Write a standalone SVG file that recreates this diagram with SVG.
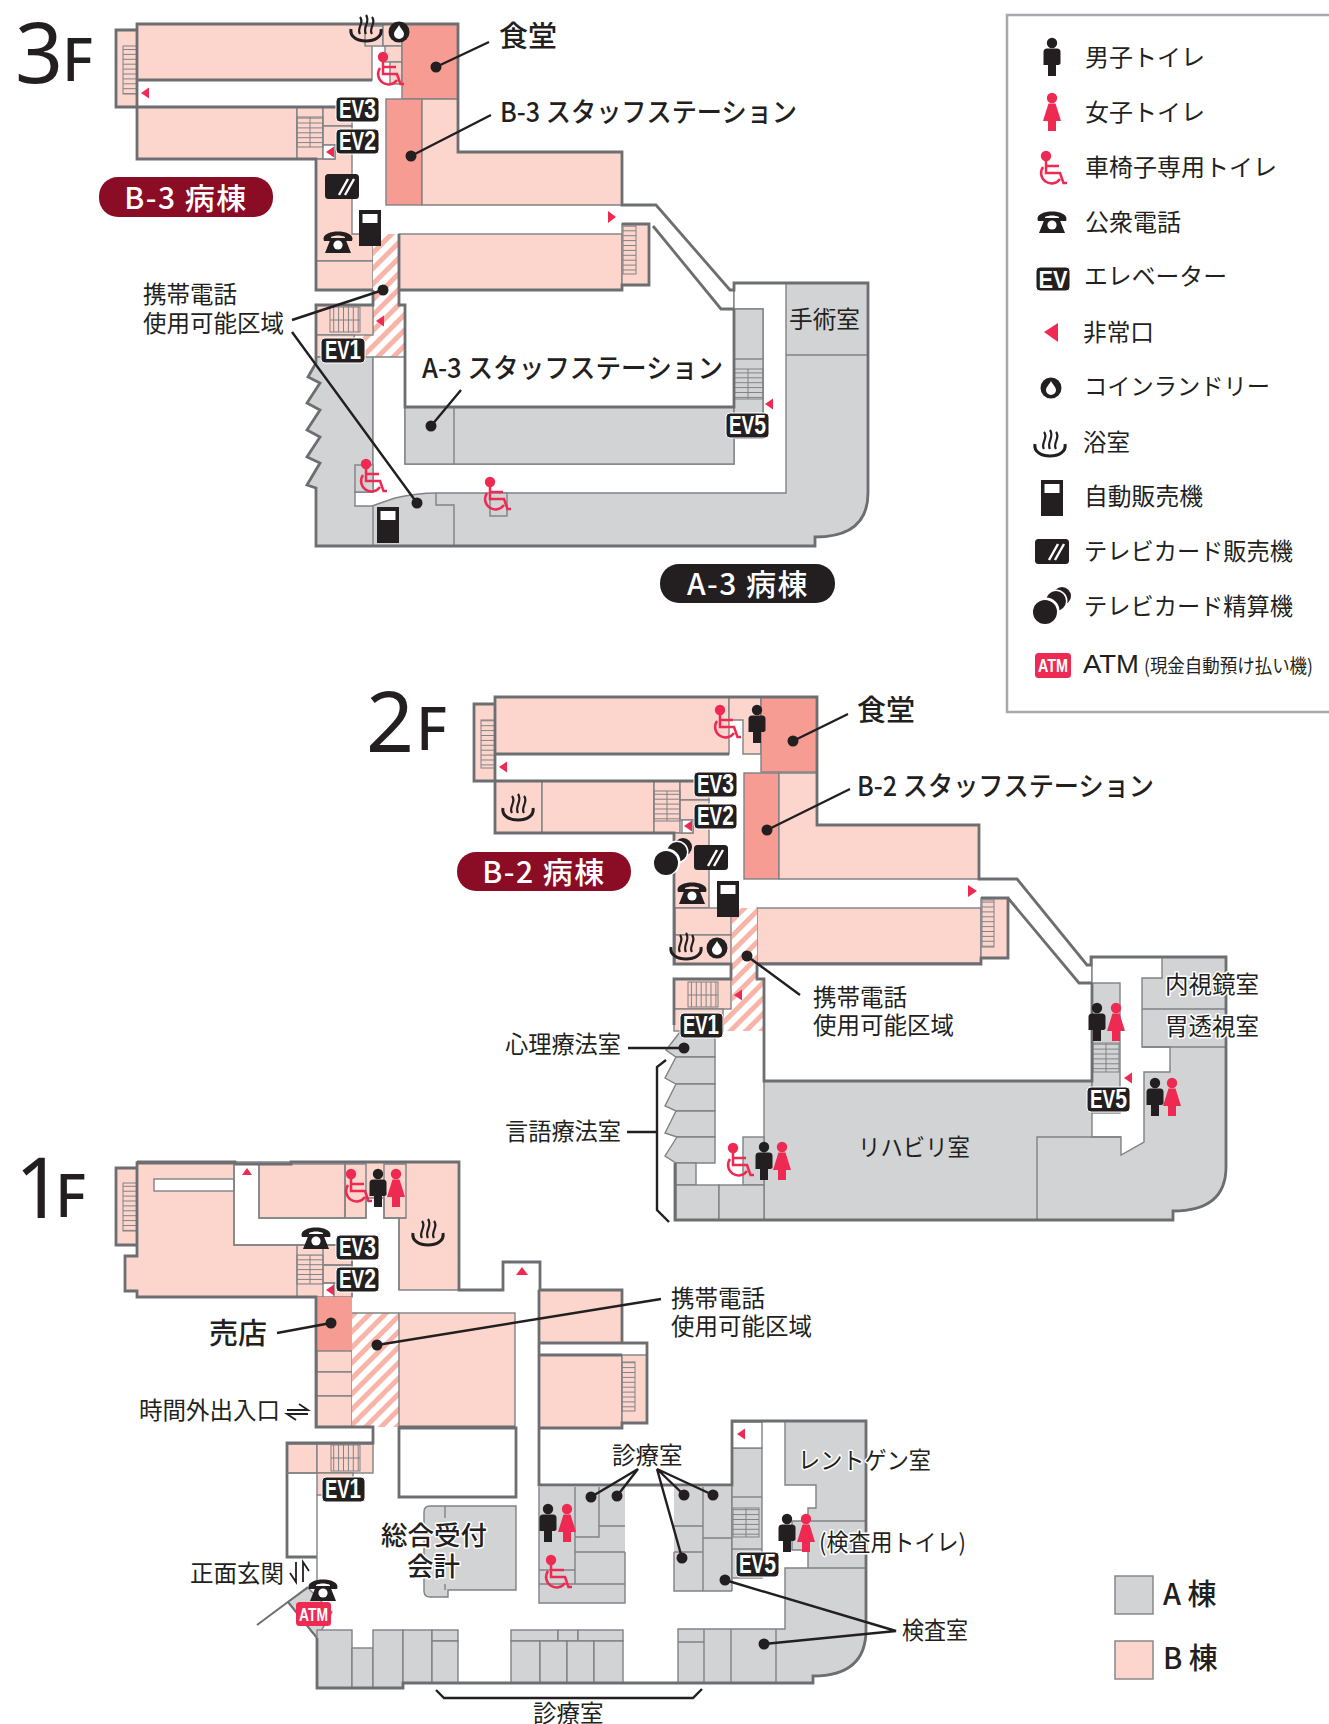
<svg xmlns="http://www.w3.org/2000/svg" width="1329" height="1724" viewBox="0 0 1329 1724">
<style>
text{font-family:"Noto Sans CJK JP","Noto Sans",sans-serif;fill:#231f20}
.t{font-size:23.5px}.m{font-size:27px;font-weight:500}.l{font-size:29px;font-weight:500}.pl{font-size:30px;font-weight:500;fill:#fff;text-anchor:middle}
.big{font-family:"Noto Sans",sans-serif;font-size:84px}.f{font-family:"Noto Sans",sans-serif;font-size:59px;font-weight:500}
.hl{paint-order:stroke;stroke:#fff;stroke-width:3px;stroke-linejoin:round}
.p{fill:#fcd5cc;stroke:#808285;stroke-width:1.4}.d{fill:#f79c92;stroke:#808285;stroke-width:1.4}
.g{fill:#d1d3d4;stroke:#808285;stroke-width:1.4}.wh{fill:#fff;stroke:#808285;stroke-width:1.4}
.n{fill:none;stroke:#808285;stroke-width:1.4}.o{fill:none;stroke:#6d6e71;stroke-width:2.8}
.s{stroke:#808285;stroke-width:1}
.tr{stroke:#808285;stroke-width:1}
.ld{fill:none;stroke:#231f20;stroke-width:2.4}.dot{fill:#231f20}
.ev rect{fill:#231f20;stroke:#fff;stroke-width:1}
.ev text{font-family:"Liberation Sans",sans-serif;font-weight:700;fill:#fff;font-size:25px}
.r{fill:#ef2a52}
</style>
<defs>
<pattern id="hatch" width="11" height="11" patternUnits="userSpaceOnUse" patternTransform="rotate(45)"><rect width="11" height="11" fill="#fff"/><rect width="5" height="11" fill="#f9b4a9"/></pattern>
<pattern id="th" width="10" height="4.9" patternUnits="userSpaceOnUse"><line x1="0" x2="10" y1="0.5" y2="0.5" stroke="#808285" stroke-width="1"/></pattern>
<pattern id="tv" width="4.9" height="10" patternUnits="userSpaceOnUse"><line y1="0" y2="10" x1="0.5" x2="0.5" stroke="#808285" stroke-width="1"/></pattern>
<g id="man" fill="#231f20"><circle cx="0" cy="-14" r="5.2"/><path d="M-8.500-5Q-8.500-8.500-5-8.500H5Q8.500-8.500 8.500-5V6Q8.500 8 5 8H-8.500Z"/><rect x="-4" y="6" width="8" height="13"/></g>
<g id="woman" class="r"><circle cx="0" cy="-14" r="5.200"/><path d="M-3.500-8.500H3.500L9 9H-9Z"/><rect x="-4" y="8" width="8" height="11"/></g>
<g id="wc"><circle class="r" cx="-7" cy="-13" r="5.200"/><path d="M-7-12V4H7L10.500 14H14M-7-3H6M-10-2A10 10 0 1 0 7 10" fill="none" stroke="#ef2a52" stroke-width="2.500"/></g>
<g id="phone" fill="#231f20"><path d="M-14.500-3C-15-13 15-13 14.500-3L14-1H7V-5C3-7-3-7-7-5V-1H-14Z"/><path d="M-7-4H7L13 11H-13Z"/><circle cx="0" cy="3" r="4.600" fill="#fff"/></g>
<g id="bath" fill="none" stroke="#231f20"><path stroke-width="3" d="M-15 0C-18 16 18 16 15 0"/><path stroke-width="1.800" d="M-15 0C-14 6 14 6 15 0" style="display:none"/><path stroke-width="2.200" d="M-6 5C-10-1-1-6-6-12M0 5C-4-2 5-7 0-14M6 5C2-1 11-6 6-12"/></g>
<g id="laundry"><circle r="10.500" fill="#231f20"/><path d="M0-7C2-3 5-1 5 2A5 5 0 0 1-5 2C-5-1-2-3 0-7Z" fill="#fff"/></g>
<g id="vend"><rect width="22" height="36" fill="#231f20"/><rect x="3.500" y="4" width="15" height="9" fill="#fff"/></g>
<g id="card"><rect width="34" height="25" rx="3.500" fill="#231f20"/><path d="M14 21 23 5M20 21 29 5" stroke="#fff" stroke-width="2.400" fill="none"/></g>
<g id="coins"><circle cx="11" cy="-10" r="9" fill="#231f20"/><circle cx="5" cy="-5" r="11.500" fill="#fff"/><circle cx="5" cy="-5" r="10" fill="#231f20"/><circle cx="-5" cy="5" r="13.500" fill="#fff"/><circle cx="-6" cy="6" r="12" fill="#231f20"/></g>
<path id="al" class="r" d="M0 0 8-5.500V5.500Z"/>
</defs>

<g id="floor-3f">
<rect class="p" x="116" y="30" width="21" height="77"/>
<rect class="p" x="137" y="24" width="235" height="56"/>
<rect class="p" x="365" y="26" width="18" height="20"/><rect class="p" x="383" y="24" width="19" height="22"/><rect class="p" x="385" y="46" width="17" height="16"/><rect class="p" x="390" y="62" width="12" height="22"/>
<rect class="d" x="402" y="24" width="56" height="75"/>
<rect class="p" x="137" y="107" width="160" height="52"/>
<rect class="p" x="297" y="107" width="26" height="52"/>
<rect class="p" x="323" y="107" width="29" height="19"/><rect class="p" x="323" y="126" width="29" height="19"/>
<polygon class="p" points="316,159 335,159 335,145 352,145 352,234 373,234 373,261 316,261"/>
<polygon class="wh" points="323,145 335,145 335,159 323,159"/>
<rect class="p" x="316" y="261" width="57" height="29"/>
<rect class="d" x="386" y="99" width="36" height="106"/>
<polygon class="p" points="422,99 458,99 458,152 622,152 622,205 422,205"/>
<rect class="p" x="399" y="234" width="223" height="56"/>
<rect class="p" x="622" y="224" width="27" height="61"/>
<rect x="123" y="46" width="14" height="48" fill="url(#th)" class="s"/>
<rect x="623" y="226" width="13" height="48" fill="url(#th)" class="s"/>
<rect x="297" y="117" width="26" height="30" fill="url(#th)" class="s"/><line class="tr" x1="310" x2="310" y1="117" y2="147"/>
<polygon points="373,234 398,234 398,305 405,305 405,357 354,357 354,335 373,335" fill="url(#hatch)"/>
<rect class="p" x="316" y="305" width="57" height="30"/>
<rect x="330" y="307" width="30" height="25" fill="url(#tv)" class="s"/><line class="tr" x1="330" x2="360" y1="320" y2="320"/>
<rect class="p" x="316" y="335" width="38" height="22"/>
<path class="g" d="M734,283H868V493Q868,537 815,537V546H316V488L307,485 320,463 307,457 320,437 307,430 320,410 307,403 320,383 308,377 316,363V357H373V465H734V283Z"/>
<path class="wh" d="M373,357H405V464H734V438H763V309H734V283H786V493H436Q418,493 395,498L372,506H355V492H373Z"/>
<rect class="g" x="405" y="407" width="329" height="57"/><line class="n" x1="454" x2="454" y1="407" y2="464"/>
<rect class="g" x="734" y="309" width="29" height="129"/><line class="n" x1="734" x2="763" y1="359" y2="359"/>
<rect x="734" y="369" width="29" height="30" fill="url(#th)" class="s"/><line class="tr" x1="748" x2="748" y1="369" y2="399"/>
<rect class="g" x="355" y="465" width="18" height="27"/>
<rect class="g" x="490" y="493" width="17" height="23"/>
<path class="n" d="M373,506V546M436,493V505H454V546M786,355H868"/>
<path class="o" d="M137,107H116V30H137V24H458V152H622V205H656L730,290H734V283H868V493Q868,537 815,537V546H316V488L307,485 320,463 307,457 320,437 307,430 320,410 307,403 320,383 308,377 316,363V305H373V290M137,24V159H316V290H373M137,80H372M137,107H352M399,290H622V285H649V224H622M653,226 721,309H734M399,290V234M399,290V305H405V407H734V309"/>
<use href="#al" transform="translate(141,93)"/><use href="#al" transform="translate(326,152)"/><use href="#al" transform="translate(376,321)"/><use href="#al" transform="translate(765,404)"/>
<polygon class="r" points="616,217 608,211 608,223"/>
<use href="#bath" x="366" y="29"/><use href="#laundry" x="399" y="32"/><use href="#wc" x="390" y="70"/>
<use href="#card" x="325" y="174"/><use href="#vend" x="359" y="210"/><use href="#phone" x="338" y="242"/>
<use href="#wc" x="373" y="477"/><use href="#wc" x="497" y="495"/><use href="#vend" x="377" y="507"/>
<g class="ev" transform="translate(336,97)"><rect width="43" height="25" rx="4"/><text x="3" y="21" textLength="37" lengthAdjust="spacingAndGlyphs">EV<tspan font-size="28">3</tspan></text></g>
<g class="ev" transform="translate(336,129)"><rect width="43" height="25" rx="4"/><text x="3" y="21" textLength="37" lengthAdjust="spacingAndGlyphs">EV<tspan font-size="28">2</tspan></text></g>
<g class="ev" transform="translate(321,338)"><rect width="44" height="25" rx="4"/><text x="4" y="21" textLength="36" lengthAdjust="spacingAndGlyphs">EV<tspan font-size="28">1</tspan></text></g>
<g class="ev" transform="translate(726,413)"><rect width="43" height="25" rx="4"/><text x="3" y="21" textLength="37" lengthAdjust="spacingAndGlyphs">EV<tspan font-size="28">5</tspan></text></g>
<text class="big" x="15" y="83">3</text><text class="f" x="62" y="81">F</text>
<text class="l" x="499" y="47">食堂</text>
<text class="m" x="500" y="122" textLength="297" lengthAdjust="spacingAndGlyphs">B-3 スタッフステーション</text>
<text class="t" x="143" y="303">携帯電話</text><text class="t" x="143" y="332">使用可能区域</text>
<text class="m" x="422" y="378" textLength="301" lengthAdjust="spacingAndGlyphs">A-3 スタッフステーション</text>
<text class="t" x="789" y="328" textLength="71" lengthAdjust="spacingAndGlyphs">手術室</text>
<g id="label-b3"><rect x="99" y="177" width="174" height="40" rx="19" fill="#8b0d25"/><text class="pl" x="186" y="209" letter-spacing="1.500">B-3 病棟</text></g>
<g id="label-a3"><rect x="660" y="564" width="175" height="39" rx="19" fill="#231f20"/><text class="pl" x="748" y="595" letter-spacing="1.500">A-3 病棟</text></g>
</g>

<g id="floor-2f">
<rect class="p" x="474" y="704" width="21" height="77"/>
<rect class="p" x="495" y="697" width="234" height="57"/>
<polygon class="p" points="729,697 761,697 761,754 743,754 743,720 729,720"/>
<rect class="d" x="761" y="697" width="56" height="75"/>
<rect class="p" x="495" y="781" width="47" height="52"/><rect class="p" x="542" y="781" width="112" height="52"/>
<rect class="p" x="654" y="781" width="26" height="52"/>
<rect class="p" x="680" y="781" width="29" height="19"/><rect class="p" x="680" y="800" width="29" height="20"/>
<polygon class="p" points="674,833 693,833 693,820 709,820 709,908 674,908"/>
<rect class="wh" x="682" y="820" width="11" height="13"/>
<rect class="p" x="675" y="908" width="56" height="27"/><rect class="p" x="675" y="935" width="56" height="29"/>
<rect class="d" x="744" y="773" width="35" height="106"/>
<polygon class="p" points="779,773 817,773 817,825 979,825 979,879 779,879"/>
<rect class="p" x="757" y="908" width="224" height="55"/>
<rect class="p" x="981" y="898" width="27" height="60"/>
<rect x="481" y="720" width="14" height="48" fill="url(#th)" class="s"/>
<rect x="982" y="900" width="12" height="47" fill="url(#th)" class="s"/>
<rect x="654" y="791" width="26" height="30" fill="url(#th)" class="s"/><line class="tr" x1="667" x2="667" y1="791" y2="821"/>
<polygon points="732,908 757,908 757,979 763,979 763,1031 723,1031 723,1009 732,1009" fill="url(#hatch)"/>
<rect class="p" x="674" y="979" width="57" height="30"/>
<rect x="688" y="982" width="30" height="25" fill="url(#tv)" class="s"/><line class="tr" x1="688" x2="718" y1="995" y2="995"/>
<rect class="p" x="674" y="1009" width="49" height="22"/>
<path class="g" d="M764,1081H1092V957H1226V1167Q1226,1211 1173,1211V1220H764Z"/>
<polygon class="wh" points="1092,957 1162,957 1162,978 1142,978 1142,1047 1170,1047 1170,1072 1144,1072 1144,1142 1121,1155 1121,1137 1092,1137"/>
<rect class="g" x="1092" y="983" width="28" height="130"/>
<rect x="1093" y="1043" width="26" height="29" fill="url(#th)" class="s"/><line class="tr" x1="1106" x2="1106" y1="1043" y2="1072"/>
<path class="n" d="M1142,1009H1226M1142,1047H1226M1121,1137H1037V1220"/>
<path class="g" d="M680,1032 666,1050 676,1057H715V1031H680Z"/>
<path class="g" d="M676,1057 665,1078 676,1084H715V1057Z"/>
<path class="g" d="M676,1084 665,1106 676,1111H715V1084Z"/>
<path class="g" d="M676,1111 665,1133 677,1137H715V1111Z"/>
<path class="g" d="M677,1137 665,1156 676,1163H715V1137Z"/>
<rect class="g" x="676" y="1163" width="20" height="22"/><rect class="g" x="743" y="1137" width="21" height="48"/>
<rect class="g" x="676" y="1185" width="43" height="35"/><rect class="g" x="719" y="1185" width="45" height="35"/>
<path class="o" d="M495,781H474V704H495V697H817V825H979V879H1017L1087,965H1091V957H1226V1167Q1226,1211 1173,1211V1220H675V1163M495,697V833H674V964H731V979H674V1025M495,754H729M495,781H709M757,964H981V958H1008V898H981M1008,898 1079,983H1092M757,963V979H764V1081H1092V983"/>
<use href="#al" transform="translate(499,767)"/><use href="#al" transform="translate(684,826)"/><use href="#al" transform="translate(734,995)"/><use href="#al" transform="translate(1124,1078)"/>
<polygon class="r" points="977,891 968,885 968,897"/>
<use href="#wc" x="727" y="723"/><use href="#man" x="757" y="724"/><use href="#bath" x="518" y="808"/>
<use href="#coins" x="672" y="857"/><use href="#card" x="694" y="845"/><use href="#phone" x="692" y="893"/><use href="#vend" x="717" y="881"/>
<use href="#bath" x="686" y="947"/><use href="#laundry" x="717" y="948"/>
<use href="#man" x="1097" y="1022"/><use href="#woman" x="1116" y="1022"/><use href="#man" x="1155" y="1097"/><use href="#woman" x="1172" y="1097"/>
<use href="#wc" x="740" y="1161"/><use href="#man" x="764" y="1161"/><use href="#woman" x="782" y="1161"/>
<g class="ev" transform="translate(694,772)"><rect width="43" height="25" rx="4"/><text x="3" y="21" textLength="37" lengthAdjust="spacingAndGlyphs">EV<tspan font-size="28">3</tspan></text></g>
<g class="ev" transform="translate(694,804)"><rect width="43" height="25" rx="4"/><text x="3" y="21" textLength="37" lengthAdjust="spacingAndGlyphs">EV<tspan font-size="28">2</tspan></text></g>
<g class="ev" transform="translate(680,1013)"><rect width="43" height="25" rx="4"/><text x="3" y="21" textLength="36" lengthAdjust="spacingAndGlyphs">EV<tspan font-size="28">1</tspan></text></g>
<g class="ev" transform="translate(1087,1087)"><rect width="43" height="25" rx="4"/><text x="3" y="21" textLength="37" lengthAdjust="spacingAndGlyphs">EV<tspan font-size="28">5</tspan></text></g>
<text class="big" x="366" y="752">2</text><text class="f" x="416" y="750">F</text>
<text class="l" x="857" y="721">食堂</text>
<text class="m" x="857" y="796" textLength="297" lengthAdjust="spacingAndGlyphs">B-2 スタッフステーション</text>
<text class="t" x="813" y="1006">携帯電話</text><text class="t" x="813" y="1034">使用可能区域</text>
<text class="t" x="505" y="1053" textLength="116" lengthAdjust="spacingAndGlyphs">心理療法室</text>
<text class="t" x="505" y="1140" textLength="116" lengthAdjust="spacingAndGlyphs">言語療法室</text>
<text class="t" x="858" y="1156" textLength="112" lengthAdjust="spacingAndGlyphs">リハビリ室</text>
<text class="t hl" x="1165" y="993" textLength="94" lengthAdjust="spacingAndGlyphs">内視鏡室</text>
<text class="t hl" x="1165" y="1035" textLength="94" lengthAdjust="spacingAndGlyphs">胃透視室</text>
<g id="label-b2"><rect x="457" y="852" width="174" height="39" rx="19" fill="#8b0d25"/><text class="pl" x="544" y="883" letter-spacing="1.500">B-2 病棟</text></g>
</g>

<g id="floor-1f">
<polygon class="p" points="116,1168 137,1168 137,1162 459,1162 459,1290 399,1290 399,1218 384,1218 384,1198 366,1198 366,1218 259,1218 259,1164 234,1164 234,1245 352,1245 352,1297 137,1297 137,1291 125,1291 125,1256 137,1256 137,1245 116,1245"/>
<rect class="wh" x="154" y="1179" width="80" height="12"/>
<rect class="n" x="259" y="1164" width="86" height="54"/><rect class="n" x="345" y="1164" width="21" height="54"/><polygon class="n" points="384,1164 406,1164 406,1218 384,1218"/><line class="n" x1="399" x2="406" y1="1218" y2="1218"/>
<rect class="wh" x="323" y="1283" width="11" height="14"/>
<line class="n" x1="297" x2="297" y1="1245" y2="1297"/><rect class="n" x="323" y="1245" width="29" height="20"/><rect class="n" x="323" y="1265" width="29" height="18"/>
<rect x="297" y="1255" width="26" height="29" fill="url(#th)" class="s"/><line class="tr" x1="310" x2="310" y1="1255" y2="1284"/>
<rect x="123" y="1183" width="14" height="48" fill="url(#th)" class="s"/>
<rect class="d" x="317" y="1297" width="35" height="54" style="stroke:none"/>
<rect class="p" x="317" y="1351" width="35" height="21"/><rect class="p" x="317" y="1372" width="35" height="24"/><rect class="p" x="317" y="1396" width="35" height="31"/>
<rect x="352" y="1313" width="47" height="114" fill="url(#hatch)"/>
<rect class="p" x="399" y="1313" width="116" height="114"/>
<rect class="p" x="539" y="1290" width="83" height="53"/><rect class="p" x="539" y="1355" width="83" height="73"/><rect class="p" x="622" y="1355" width="25" height="68"/>
<rect x="622" y="1362" width="13" height="49" fill="url(#th)" class="s"/>
<rect class="p" x="287" y="1444" width="30" height="29"/><rect class="p" x="317" y="1444" width="56" height="29"/><rect class="p" x="317" y="1473" width="36" height="22"/>
<rect x="331" y="1445" width="29" height="26" fill="url(#tv)" class="s"/><line class="tr" x1="331" x2="360" y1="1458" y2="1458"/>
<path class="g" d="M308,1588 288,1602 317,1638 332,1612Z"/>
<path class="o" d="M257,1625 308,1587M288,1602 317,1638" style="stroke-width:2"/>
<path class="g" d="M430,1506H516V1590H448V1597H430Q424,1597 424,1591V1512Q424,1506 430,1506Z"/>
<path class="n" d="M445,1506V1518M445,1584V1590"/>
<rect class="g" x="317" y="1630" width="35" height="58"/><rect class="g" x="352" y="1648" width="21" height="40"/><rect class="g" x="373" y="1630" width="30" height="58"/><rect class="g" x="403" y="1630" width="29" height="53"/><rect class="g" x="432" y="1630" width="26" height="11"/><rect class="g" x="432" y="1641" width="26" height="42"/>
<rect class="g" x="511" y="1630" width="47" height="11"/><rect class="g" x="558" y="1630" width="20" height="11"/><rect class="g" x="578" y="1630" width="45" height="11"/>
<rect class="g" x="511" y="1641" width="29" height="42"/><rect class="g" x="540" y="1641" width="27" height="42"/><rect class="g" x="567" y="1641" width="27" height="42"/><rect class="g" x="594" y="1641" width="29" height="42"/>
<path d="M539,1487H625V1603H539Z" fill="#d1d3d4"/>
<path class="n" d="M539,1487V1603H625V1552M575,1487V1537H599V1487M599,1526H625M575,1537V1584M575,1552H625M539,1584H625M539,1570H575"/>
<path d="M674,1487H732V1591H674Z" fill="#d1d3d4"/>
<path class="n" d="M703,1487V1591M674,1526H703M674,1552H703M703,1538H732M732,1591H674V1552M732,1487V1591"/>
<rect class="g" x="732" y="1448" width="30" height="130"/><rect class="wh" x="732" y="1422" width="30" height="26"/>
<line class="n" x1="732" x2="762" y1="1497" y2="1497"/><line class="n" x1="732" x2="762" y1="1549" y2="1549"/>
<rect x="733" y="1508" width="26" height="29" fill="url(#th)" class="s"/><line class="tr" x1="746" x2="746" y1="1508" y2="1537"/>
<path class="g" d="M785,1421H866V1630Q866,1676 813,1676V1683H678V1629H785V1568H808V1550H792V1521H808V1508H816V1485H785Z"/>
<path class="n" d="M704,1629V1683M731,1629V1683M776,1629V1683M678,1642H704M808,1521H866M808,1568H866"/>
<path class="o" d="M234,1164V1163H137V1168H116V1245H137V1256H125V1291H137V1297H316V1427H373V1443H287V1557H317M137,1162H235V1164H291V1162H459V1290H503V1262H540V1290M137,1163V1245M352,1427H373M399,1427H515M399,1428H516V1497H399ZM539,1290H622V1343H647V1423H622V1428H539V1485H732V1421H866V1630Q866,1676 813,1676V1683H403V1688H317V1638M539,1290V1428M622,1343H539M622,1355H539"/>
<path class="n" d="M317,1495V1580M287,1473H317M234,1164V1245H352V1297M399,1218V1290M352,1313H399"/>
<polygon class="r" points="247,1168 252,1175 242,1175"/><polygon class="r" points="522,1267 528,1275 516,1275"/>
<use href="#al" transform="translate(326,1290)"/><use href="#al" transform="translate(737,1434)"/>
<path d="M287,1410H308L299,1404M308,1414H287L296,1420" fill="none" stroke="#231f20" stroke-width="1.800"/>
<path d="M296,1562V1582L290,1573M303,1582V1562L309,1571" fill="none" stroke="#231f20" stroke-width="1.800"/>
<use href="#wc" x="358" y="1187"/><use href="#man" x="378" y="1188"/><use href="#woman" x="396" y="1188"/><use href="#bath" x="428" y="1233"/>
<use href="#phone" x="316" y="1238"/><use href="#phone" x="323" y="1590"/>
<use href="#man" x="548" y="1523"/><use href="#woman" x="567" y="1523"/><use href="#wc" x="558" y="1573"/>
<use href="#man" x="787" y="1533"/><use href="#woman" x="806" y="1533"/>
<g id="atm-1f"><rect x="296" y="1602" width="35" height="24" rx="3.500" class="r"/><text x="299" y="1621" font-size="19" font-weight="700" style="fill:#fff;font-family:'Liberation Sans',sans-serif" textLength="29" lengthAdjust="spacingAndGlyphs">ATM</text></g>
<g class="ev" transform="translate(336,1235)"><rect width="43" height="25" rx="4"/><text x="3" y="21" textLength="37" lengthAdjust="spacingAndGlyphs">EV<tspan font-size="28">3</tspan></text></g>
<g class="ev" transform="translate(336,1267)"><rect width="43" height="25" rx="4"/><text x="3" y="21" textLength="37" lengthAdjust="spacingAndGlyphs">EV<tspan font-size="28">2</tspan></text></g>
<g class="ev" transform="translate(322,1477)"><rect width="43" height="25" rx="4"/><text x="3" y="21" textLength="36" lengthAdjust="spacingAndGlyphs">EV<tspan font-size="28">1</tspan></text></g>
<g class="ev" transform="translate(736,1552)"><rect width="43" height="25" rx="4"/><text x="3" y="21" textLength="37" lengthAdjust="spacingAndGlyphs">EV<tspan font-size="28">5</tspan></text></g>
<text class="big" x="15" y="1218">1</text><text class="f" x="55" y="1217">F</text>
<text class="l" x="209" y="1344">売店</text>
<text class="t" x="139" y="1419">時間外出入口</text>
<text class="t" x="671" y="1307">携帯電話</text><text class="t" x="671" y="1335">使用可能区域</text>
<text class="t" x="612" y="1464">診療室</text>
<text class="t" x="533" y="1722">診療室</text>
<text class="t hl" x="798" y="1469" textLength="133" lengthAdjust="spacingAndGlyphs">レントゲン室</text>
<text class="t hl" x="819" y="1551" textLength="147" lengthAdjust="spacingAndGlyphs">(検査用トイレ)</text>
<text class="t" x="902" y="1639" textLength="66" lengthAdjust="spacingAndGlyphs">検査室</text>
<text class="t" x="190" y="1582">正面玄関</text>
<text class="m hl" x="381" y="1545" style="font-size:26.500px">総合受付</text>
<text class="m hl" x="407" y="1576" style="font-size:26.500px">会計</text>
</g>

<g id="connectors">
<path class="ld" d="M436,67 489,42M411,156 491,115M383,290 292,320M292,332 417,503M431,426 461,390"/>
<path class="ld" d="M793,741 848,714M767,830 850,789M747,956 800,995M628,1048H684M657,1132H627M666,1060 657,1067V1210L669,1222"/>
<path class="ld" d="M331,1323 277,1333M377,1345 661,1299M591,1497 638,1469 617,1496M684,1495 657,1469 713,1495M657,1469 682,1558M725,1580 896,1631 764,1644M436,1690 444,1698H693L702,1689"/>
<g class="dot"><circle cx="436" cy="67" r="5.500"/><circle cx="411" cy="156" r="5.500"/><circle cx="383" cy="290" r="5.500"/><circle cx="417" cy="503" r="5.500"/><circle cx="431" cy="426" r="5.500"/>
<circle cx="793" cy="741" r="5.500"/><circle cx="767" cy="830" r="5.500"/><circle cx="747" cy="956" r="5.500"/><circle cx="684" cy="1048" r="5.500"/>
<circle cx="331" cy="1323" r="5.500"/><circle cx="377" cy="1345" r="5.500"/><circle cx="591" cy="1497" r="5.500"/><circle cx="617" cy="1496" r="5.500"/><circle cx="684" cy="1495" r="5.500"/><circle cx="713" cy="1495" r="5.500"/><circle cx="682" cy="1558" r="5.500"/><circle cx="725" cy="1580" r="5.500"/><circle cx="764" cy="1644" r="5.500"/></g>
</g>

<g id="legend">
<path d="M1329,15H1007V712H1329" fill="none" stroke="#a7a9ac" stroke-width="2.500"/>
<use href="#man" x="1052" y="57"/><text class="t" x="1085" y="66" textLength="120" lengthAdjust="spacingAndGlyphs">男子トイレ</text>
<use href="#woman" x="1052" y="112"/><text class="t" x="1085" y="121" textLength="120" lengthAdjust="spacingAndGlyphs">女子トイレ</text>
<use href="#wc" x="1053" y="169"/><text class="t" x="1085" y="176" textLength="192" lengthAdjust="spacingAndGlyphs">車椅子専用トイレ</text>
<use href="#phone" x="1052" y="222"/><text class="t" x="1085" y="231" textLength="96" lengthAdjust="spacingAndGlyphs">公衆電話</text>
<g class="ev" transform="translate(1036,267)"><rect width="34" height="24" rx="4"/><text x="2.500" y="20.500" style="font-size:23px" textLength="29" lengthAdjust="spacingAndGlyphs">EV</text></g><text class="t" x="1084" y="285" textLength="143" lengthAdjust="spacingAndGlyphs">エレベーター</text>
<polygon class="r" points="1044,332 1058,323 1058,342"/><text class="t" x="1083" y="341" textLength="71" lengthAdjust="spacingAndGlyphs">非常口</text>
<use href="#laundry" x="1051" y="388"/><text class="t" x="1084" y="395" textLength="186" lengthAdjust="spacingAndGlyphs">コインランドリー</text>
<use href="#bath" x="1050" y="444"/><text class="t" x="1083" y="451" textLength="47" lengthAdjust="spacingAndGlyphs">浴室</text>
<use href="#vend" x="1041" y="480"/><text class="t" x="1084" y="505" textLength="119" lengthAdjust="spacingAndGlyphs">自動販売機</text>
<use href="#card" x="1035" y="539"/><text class="t" x="1084" y="560" textLength="209" lengthAdjust="spacingAndGlyphs">テレビカード販売機</text>
<use href="#coins" x="1051" y="606"/><text class="t" x="1084" y="615" textLength="209" lengthAdjust="spacingAndGlyphs">テレビカード精算機</text>
<g id="legend-atm"><rect x="1035" y="653" width="36" height="25" rx="3.500" class="r"/><text x="1038" y="672" font-size="19" font-weight="700" style="fill:#fff;font-family:'Liberation Sans',sans-serif" textLength="30" lengthAdjust="spacingAndGlyphs">ATM</text></g>
<text x="1083" y="673" font-size="25" style="font-family:'Liberation Sans',sans-serif" textLength="56" lengthAdjust="spacingAndGlyphs">ATM</text>
<text x="1144" y="673" font-size="19" textLength="169" lengthAdjust="spacingAndGlyphs">(現金自動預け払い機)</text>
<rect class="g" x="1115" y="1576" width="38" height="38"/><text class="l" x="1163" y="1605">A 棟</text>
<rect class="p" x="1115" y="1641" width="38" height="38"/><text class="l" x="1163" y="1669">B 棟</text>
</g>
</svg>
